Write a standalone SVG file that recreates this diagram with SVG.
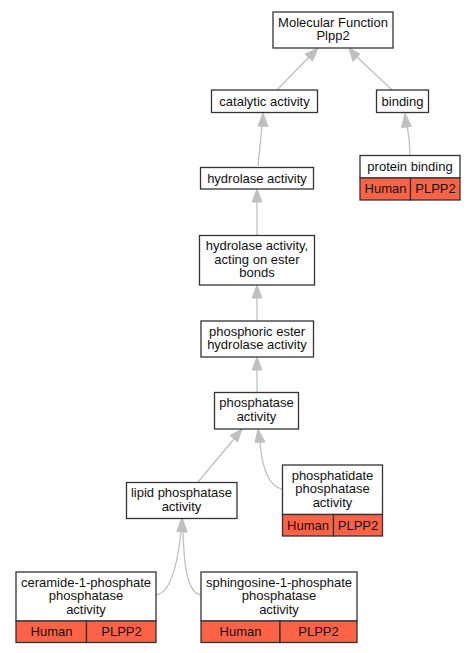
<svg xmlns="http://www.w3.org/2000/svg" width="475" height="653" viewBox="0 0 475 653">
<style>
.box{fill:#fff;stroke:#333;stroke-width:1.3}
.red{fill:#ff6347;stroke:#333;stroke-width:1.3}
text{font-family:"Liberation Sans",Arial,sans-serif;font-size:13px;fill:#111;text-anchor:middle}
.e{fill:none;stroke:#c0c0c0;stroke-width:1.3}
.ah{fill:#c0c0c0;stroke:#c0c0c0}
</style>
<rect width="475" height="653" fill="#fff"/>
<g id="edges">
<path class="e" d="M277,90 L309,57"/>
<polygon class="ah" points="318,48 312.5,61 305,54"/>
<path class="e" d="M392,90 L357,57"/>
<polygon class="ah" points="349,48 360,54 353,61.5"/>
<path class="e" d="M410,155 C410,145 409,135 407,125"/>
<polygon class="ah" points="405,113 411.5,126.5 401.5,127.5"/>
<path class="e" d="M258,166 L262,126"/>
<polygon class="ah" points="263,113 268,126.5 258,126"/>
<path class="e" d="M257,235 L257,202"/>
<polygon class="ah" points="257,189 262,202 252,202"/>
<path class="e" d="M257,321 L257,298"/>
<polygon class="ah" points="257,285 262,298 252,298"/>
<path class="e" d="M257,392 L257,370"/>
<polygon class="ah" points="257,357 262,370 252,370"/>
<path class="e" d="M198,482 L234,439"/>
<polygon class="ah" points="242,429 237.5,442 230,435.5"/>
<path class="e" d="M282,489 C270,487 262,470 260,442"/>
<polygon class="ah" points="258,429 265,442 255,442.5"/>
<path class="e" d="M156,595 C172,593 178,560 181,532"/>
<polygon class="ah" points="182,518 187,532 177,531.5"/>
<path class="e" d="M201,595 C186,593 184,560 183,532"/>
<polygon class="ah" points="182,518 187,532 177,531.5"/>
</g>
<g id="mf">
<rect class="box" x="273" y="12" width="120" height="36"/>
<text x="333" y="26.5">Molecular Function</text>
<text x="333" y="40">Plpp2</text>
</g>
<g id="catalytic">
<rect class="box" x="211.5" y="90" width="106" height="22.5"/>
<text x="264.5" y="105.5">catalytic activity</text>
</g>
<g id="binding">
<rect class="box" x="376.5" y="90" width="52" height="22.5"/>
<text x="402.5" y="105.5">binding</text>
</g>
<g id="protein-binding">
<rect class="box" x="360" y="155.5" width="100" height="22.5"/>
<text x="410" y="170.5">protein binding</text>
<rect class="red" x="360" y="178" width="50.5" height="22"/>
<rect class="red" x="410.5" y="178" width="49.5" height="22"/>
<text x="385.5" y="193">Human</text>
<text x="435.5" y="193">PLPP2</text>
</g>
<g id="hydrolase">
<rect class="box" x="200.5" y="167.5" width="113" height="21.5"/>
<text x="257" y="182.5">hydrolase activity</text>
</g>
<g id="ester">
<rect class="box" x="199.5" y="235.5" width="115" height="49.5"/>
<text x="257" y="250">hydrolase activity,</text>
<text x="257" y="263.5">acting on ester</text>
<text x="257" y="277">bonds</text>
</g>
<g id="phosphoric">
<rect class="box" x="201" y="321" width="112.5" height="36"/>
<text x="257" y="335.5">phosphoric ester</text>
<text x="257" y="349">hydrolase activity</text>
</g>
<g id="phosphatase">
<rect class="box" x="214.5" y="392.5" width="84" height="36.5"/>
<text x="256.5" y="407">phosphatase</text>
<text x="256.5" y="420.5">activity</text>
</g>
<g id="phosphatidate">
<rect class="box" x="282.5" y="465" width="100" height="49.5"/>
<text x="332.5" y="479.5">phosphatidate</text>
<text x="332.5" y="493">phosphatase</text>
<text x="332.5" y="506.5">activity</text>
<rect class="red" x="282.5" y="514.5" width="51" height="21.5"/>
<rect class="red" x="333.5" y="514.5" width="49" height="21.5"/>
<text x="308" y="529.5">Human</text>
<text x="358" y="529.5">PLPP2</text>
</g>
<g id="lipid">
<rect class="box" x="126.5" y="482.5" width="110.5" height="36"/>
<text x="181.5" y="497">lipid phosphatase</text>
<text x="181.5" y="510.5">activity</text>
</g>
<g id="ceramide">
<rect class="box" x="16" y="572" width="140" height="49"/>
<text x="86" y="586.5">ceramide-1-phosphate</text>
<text x="86" y="600">phosphatase</text>
<text x="86" y="613.5">activity</text>
<rect class="red" x="16" y="621" width="70.5" height="21.5"/>
<rect class="red" x="86.5" y="621" width="69.5" height="21.5"/>
<text x="51.5" y="636">Human</text>
<text x="121.5" y="636">PLPP2</text>
</g>
<g id="sphingosine">
<rect class="box" x="201" y="572" width="156" height="49"/>
<text x="279" y="586.5">sphingosine-1-phosphate</text>
<text x="279" y="600">phosphatase</text>
<text x="279" y="613.5">activity</text>
<rect class="red" x="201" y="621" width="79" height="21.5"/>
<rect class="red" x="280" y="621" width="77" height="21.5"/>
<text x="240.5" y="636">Human</text>
<text x="318.5" y="636">PLPP2</text>
</g>
</svg>
